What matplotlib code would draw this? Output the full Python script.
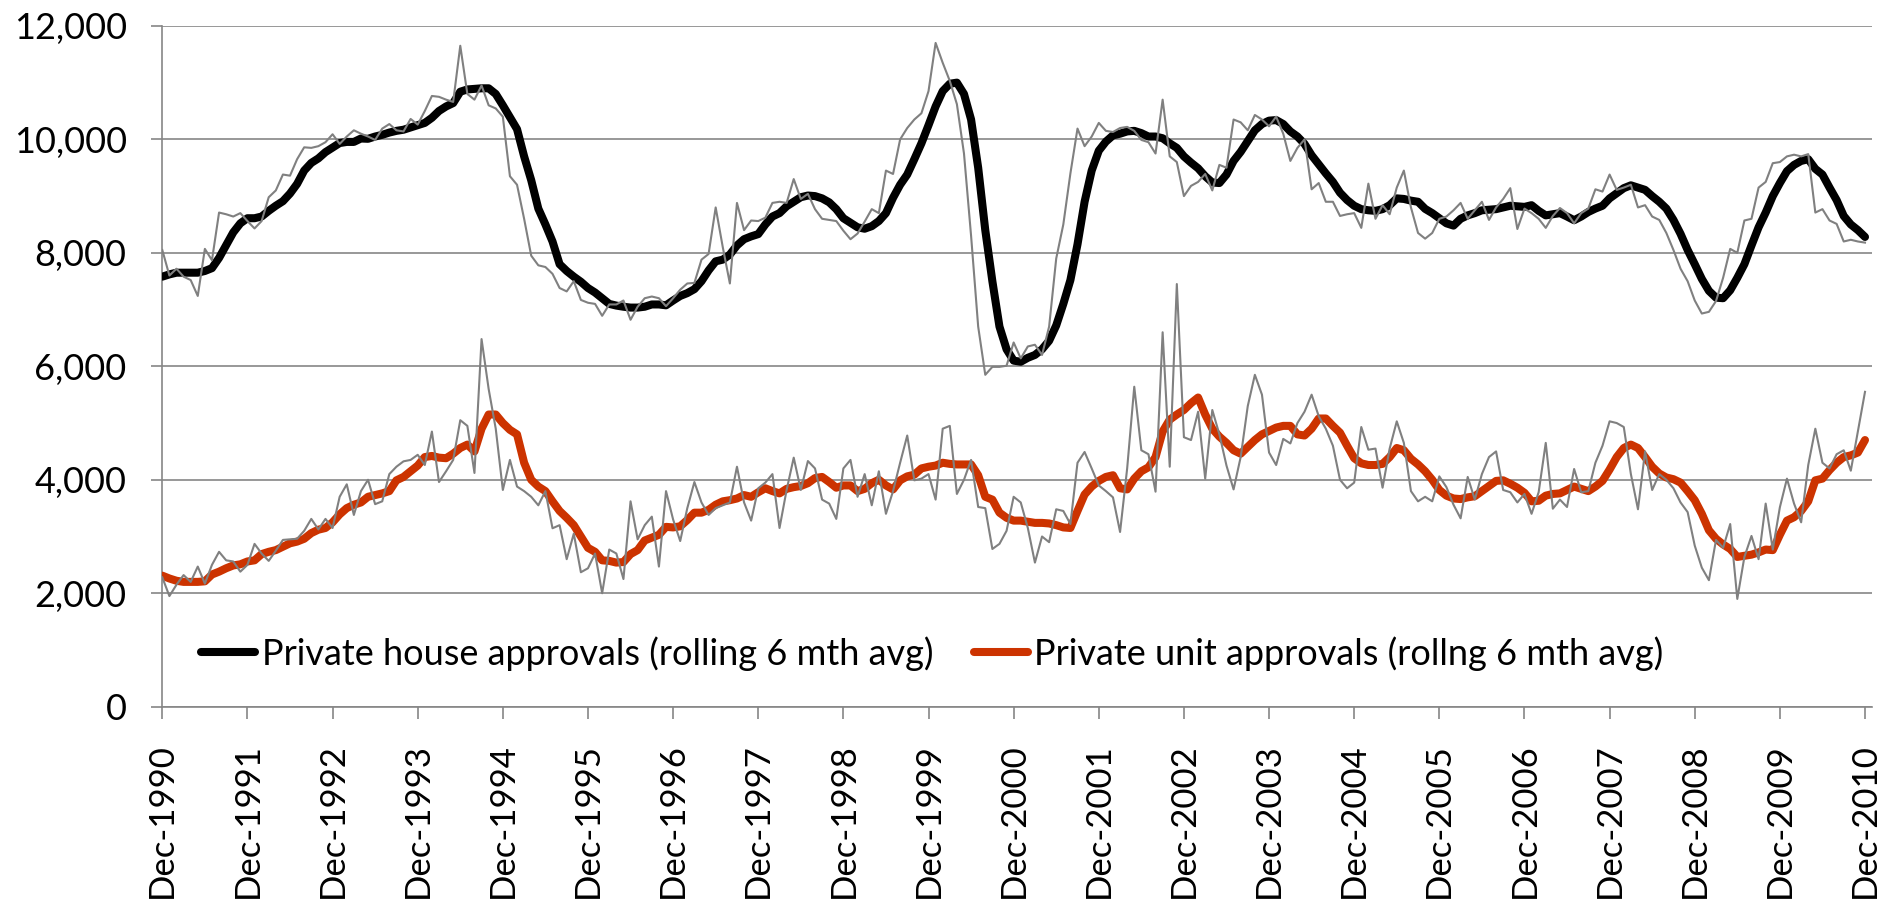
import matplotlib

matplotlib.use("Agg")
import matplotlib.pyplot as plt  # noqa: E402
import numpy as np  # noqa: E402
from matplotlib.ticker import FuncFormatter  # noqa: E402
from matplotlib.transforms import ScaledTranslation  # noqa: E402

# Monthly building approvals, Dec-1990 .. Dec-2010 (241 months).
house_avg = [
    7580, 7620, 7650, 7650, 7650, 7650, 7680, 7730, 7910, 8135, 8360, 8520,
    8610, 8610, 8640, 8740, 8830, 8910, 9045, 9215, 9450, 9585, 9665, 9775,
    9855, 9935, 9955, 9955, 10015, 10010, 10050, 10080, 10120, 10150, 10170, 10210,
    10250, 10290, 10380, 10500, 10580, 10640, 10840, 10880, 10890, 10900, 10900, 10800,
    10600, 10390, 10180, 9700, 9280, 8780, 8500, 8200, 7800, 7680, 7580, 7490,
    7380, 7300, 7200, 7100, 7070, 7050, 7035, 7035, 7050, 7090, 7090, 7075,
    7160, 7240, 7290, 7360, 7500, 7690, 7850, 7880, 7970, 8130, 8240, 8290,
    8330, 8500, 8640, 8700, 8820, 8900, 8980, 9010, 9000, 8960, 8890, 8770,
    8610, 8530, 8450, 8425, 8470, 8560, 8700, 8970, 9200, 9380, 9650, 9930,
    10250, 10580, 10850, 10980, 11000, 10800, 10350, 9500, 8400, 7500, 6700, 6300,
    6100, 6080, 6150, 6200, 6300, 6450, 6720, 7100, 7520, 8150, 8900, 9450,
    9800, 9960, 10070, 10100, 10140, 10150, 10110, 10050, 10050, 10020, 9930, 9850,
    9700, 9590, 9490, 9350, 9240, 9230, 9380, 9620, 9780, 9970, 10160, 10270,
    10330, 10340, 10270, 10140, 10050, 9920, 9720, 9560, 9400, 9250, 9060, 8930,
    8830, 8770, 8750, 8740, 8770, 8840, 8960, 8950, 8920, 8900, 8775, 8700,
    8610, 8520, 8480, 8600, 8660, 8700, 8750, 8760, 8770, 8800, 8830, 8820,
    8810, 8840, 8740, 8660, 8680, 8700, 8640, 8575, 8640, 8720, 8780, 8830,
    8960, 9050, 9140, 9190, 9150, 9110, 9000, 8900, 8780, 8580, 8335, 8050,
    7800, 7540, 7330, 7210, 7200, 7340, 7560, 7800, 8130, 8450, 8710, 9000,
    9230, 9440, 9550, 9620, 9650, 9480, 9380, 9150, 8930, 8650, 8500, 8400,
    8280,
]

house_raw = [
    8050, 7600, 7720, 7580, 7520, 7240, 8070, 7870, 8710, 8680, 8640, 8700,
    8560, 8430, 8560, 8980, 9100, 9380, 9360, 9650, 9860, 9850, 9880, 9950,
    10090, 9920, 10050, 10160, 10100, 10050, 9990, 10190, 10270, 10160, 10140, 10360,
    10260, 10500, 10765, 10750, 10700, 10660, 11650, 10800, 10700, 10950, 10600, 10545,
    10400, 9350, 9200, 8600, 7950, 7780, 7750, 7630, 7380, 7320, 7500, 7170,
    7120, 7100, 6890, 7090, 7090, 7160, 6820, 7050, 7200, 7230, 7200, 7060,
    7200, 7350, 7460, 7470, 7880, 7980, 8800, 8100, 7460, 8880, 8400, 8570,
    8560, 8620, 8880, 8900, 8880, 9300, 8950, 9040, 8770, 8600, 8580, 8560,
    8390, 8240, 8340, 8550, 8770, 8700, 9450, 9390, 10000, 10200, 10350, 10460,
    10850, 11700, 11350, 11030, 10620, 9750, 8300, 6700, 5850, 5990, 5990, 6010,
    6420, 6140, 6350, 6380, 6200, 6700, 7900, 8500, 9400, 10190, 9880, 10050,
    10290, 10150, 10130, 10200, 10220, 10150, 9990, 9950, 9750, 10700, 9700, 9600,
    9000, 9180, 9250, 9390, 9100, 9550, 9500, 10350, 10300, 10160, 10430, 10350,
    10230, 10400, 10100, 9620, 9850, 10000, 9120, 9230, 8900, 8900, 8650, 8680,
    8700, 8440, 9220, 8600, 8840, 8680, 9150, 9450, 8800, 8350, 8250, 8350,
    8600, 8640, 8750, 8880, 8600, 8750, 8900, 8580, 8800, 8950, 9140, 8420,
    8780, 8700, 8600, 8440, 8650, 8790, 8700, 8520, 8700, 8780, 9120, 9080,
    9380, 9110, 9150, 9200, 8800, 8840, 8640, 8580, 8350, 8050, 7720, 7500,
    7160, 6930, 6960, 7150, 7560, 8070, 8000, 8570, 8600, 9150, 9250, 9580,
    9600, 9700, 9730, 9700, 9740, 8710, 8770, 8570, 8510, 8200, 8230, 8200,
    8180,
]

unit_avg = [
    2310, 2260, 2220, 2200, 2200, 2200, 2210, 2330, 2380, 2440, 2490, 2510,
    2560, 2580, 2690, 2730, 2760, 2820, 2880, 2910, 2960, 3060, 3120, 3150,
    3250, 3390, 3500, 3560, 3600, 3700, 3730, 3760, 3800, 3990, 4050, 4150,
    4250, 4400, 4420, 4390, 4380, 4460, 4560, 4620, 4500, 4900, 5150, 5150,
    5000, 4880, 4800, 4300, 4000, 3880, 3800, 3620, 3450, 3330, 3200, 3000,
    2800, 2730, 2580, 2570, 2540, 2550, 2690, 2760, 2930, 2980, 3030, 3170,
    3160, 3180, 3290, 3420, 3420, 3470, 3560, 3620, 3640, 3670, 3730, 3700,
    3780, 3850, 3800, 3760, 3840, 3870, 3890, 3940, 4030, 4050, 3960, 3860,
    3900, 3900, 3800, 3840, 3940, 4000, 3900, 3830, 3990, 4060, 4090, 4200,
    4230, 4250, 4300, 4280, 4270, 4270, 4270, 4080, 3700, 3650, 3420, 3330,
    3280, 3280, 3260, 3240, 3240, 3230, 3200, 3160, 3150, 3450, 3740, 3880,
    3980, 4050, 4080, 3850, 3830, 4020, 4150, 4220, 4400, 4850, 5060, 5150,
    5230, 5350, 5450, 5150, 4900, 4760, 4650, 4520, 4460, 4580, 4700, 4800,
    4860, 4920, 4950, 4950, 4800, 4780, 4900, 5080, 5080, 4950, 4830, 4600,
    4380, 4290, 4260, 4260, 4280, 4400, 4560, 4520, 4370, 4270, 4150, 4000,
    3820, 3720, 3670, 3660, 3690, 3710, 3800, 3890, 3980, 3990, 3930, 3860,
    3770, 3620, 3630, 3720, 3750, 3760, 3820, 3880, 3840, 3800, 3880, 3980,
    4180, 4400, 4560, 4620, 4560, 4400, 4230, 4110, 4040, 4010, 3950, 3800,
    3640, 3400, 3110, 2960, 2860, 2780, 2640, 2660, 2680, 2720, 2770, 2760,
    3030, 3280, 3340, 3450, 3620, 3990, 4020, 4170, 4300, 4400, 4430, 4480,
    4700,
]

unit_raw = [
    2280, 1950, 2150, 2320, 2200, 2470, 2170, 2500, 2730, 2580, 2560, 2380,
    2500, 2870, 2700, 2570, 2750, 2940, 2950, 2960, 3100, 3310, 3125, 3310,
    3150, 3700, 3920, 3380, 3800, 4000, 3570, 3620, 4100, 4230, 4325, 4350,
    4440, 4260, 4850, 3960, 4150, 4350, 5050, 4950, 4120, 6480, 5600, 4900,
    3820, 4350, 3880, 3800, 3700, 3550, 3800, 3145, 3200, 2600, 3050, 2370,
    2440, 2700, 2000, 2770, 2700, 2250, 3620, 2950, 3200, 3350, 2470, 3800,
    3300, 2920, 3500, 3960, 3600, 3380, 3500, 3550, 3600, 4230, 3600, 3280,
    3850, 3950, 4100, 3150, 3820, 4390, 3820, 4330, 4200, 3650, 3580, 3310,
    4200, 4350, 3700, 4100, 3550, 4150, 3400, 3800, 4300, 4780, 3990, 4020,
    4100, 3650, 4900, 4950, 3750, 4000, 4350, 3520, 3500, 2780, 2870, 3100,
    3700, 3600, 3150, 2540, 3000, 2900, 3480, 3450, 3220, 4300, 4490, 4200,
    3900, 3800, 3690, 3080, 4200, 5640, 4520, 4450, 3790, 6600, 4230, 7450,
    4750, 4700, 5200, 4020, 5230, 4800, 4250, 3830, 4400, 5300, 5850, 5500,
    4480, 4260, 4720, 4640, 5000, 5200, 5500, 5120, 4900, 4600, 4000, 3850,
    3950, 4930, 4530, 4550, 3860, 4550, 5030, 4650, 3800, 3620, 3700, 3620,
    4060, 3870, 3560, 3320, 4050, 3650, 4100, 4400, 4500, 3820, 3780, 3600,
    3750, 3400, 3780, 4650, 3490, 3650, 3520, 4190, 3780, 3800, 4300, 4600,
    5030, 5000, 4930, 4100, 3480, 4500, 3820, 4100, 4000, 3850, 3600, 3430,
    2840, 2450, 2230, 2940, 2800, 3220, 1900, 2640, 3010, 2600, 3580, 2770,
    3515, 4020, 3580, 3250, 4260, 4900, 4300, 4200, 4450, 4520, 4160, 4850,
    5550,
]

tick_years = list(range(1990, 2011))
tick_labels = [f"Dec-{year}" for year in tick_years]

house_label = "Private house approvals (rolling 6 mth avg)"
unit_label = "Private unit approvals (rollng 6 mth avg)"

AXIS_GREY = "#868686"
RAW_GREY = "#808080"
UNIT_RED = "#CC3300"

plt.rcParams["font.family"] = ["Lato", "DejaVu Sans"]

months = np.arange(len(house_avg))
last = len(months) - 1

fig = plt.figure(figsize=(18.91, 9.0), dpi=100)
# plot area in pixels: x 162.3..1871.7, y 25.9..706.7
ax = fig.add_axes([162.3 / 1891, 1 - 706.7 / 900, 1709.4 / 1891, 680.8 / 900])

thick = dict(lw=5.8, solid_capstyle="round", solid_joinstyle="round", zorder=3)
house_line, = ax.plot(months, house_avg, color="black", **thick)
unit_line, = ax.plot(months, unit_avg, color=UNIT_RED, **thick)
for raw in (house_raw, unit_raw):
    ax.plot(months, raw, color=RAW_GREY, lw=1.5, zorder=4)

# the plot area runs a little past the last month
ax.set_xlim(0, last * 1709.4 / 1702.7)
ax.set_ylim(0, 12000)
ax.set_yticks(range(0, 12001, 2000))
ax.yaxis.set_major_formatter(FuncFormatter(lambda v, _: f"{int(v):,}"))
ax.set_xticks(range(0, len(months), 12))
ax.set_xticklabels(tick_labels, rotation=90)
shift = ScaledTranslation(0.09, 0, fig.dpi_scale_trans)
for label in ax.get_xticklabels():
    label.set_transform(label.get_transform() + shift)

ax.grid(axis="y", color=AXIS_GREY, lw=1.2, zorder=1)
ax.set_axisbelow(True)
for side in ("top", "right"):
    ax.spines[side].set_visible(False)
for side in ("left", "bottom"):
    ax.spines[side].set_color(AXIS_GREY)
    ax.spines[side].set_linewidth(1.2)

ax.tick_params(axis="y", direction="out", length=7.6, width=1.2, color=AXIS_GREY,
               labelsize=26, pad=18)
ax.tick_params(axis="x", direction="out", length=8.4, width=1.2, color=AXIS_GREY,
               labelsize=25, pad=18)

legend_style = dict(loc="center left", frameon=False, fontsize=26, borderpad=0,
                    borderaxespad=0, handlelength=1.5, handletextpad=0.17)
house_key = ax.legend([house_line], [house_label],
                      bbox_to_anchor=(0.0228, 0.078), **legend_style)
ax.add_artist(house_key)
ax.legend([unit_line], [unit_label], bbox_to_anchor=(0.4748, 0.078), **legend_style)

fig.savefig("out.png", dpi=100)
plt.close(fig)
